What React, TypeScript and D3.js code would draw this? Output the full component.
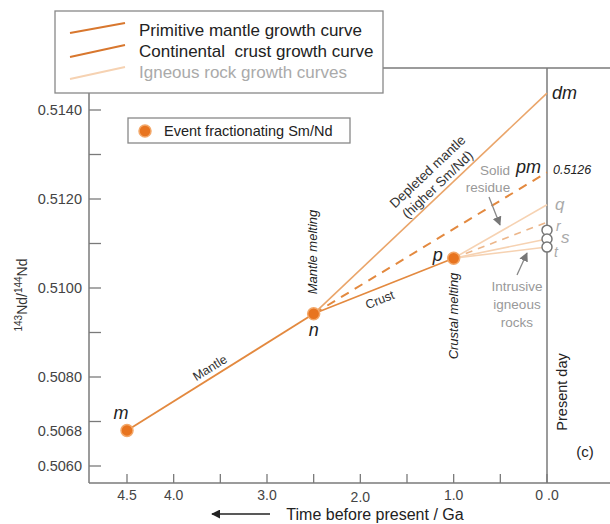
import React from "react";
import * as d3 from "d3";

// ---- data ----
const xTickValues = [4.5, 4.0, 3.5, 3.0, 2.5, 2.0, 1.5, 1.0, 0.5, 0.0];
const xTickLabels = ["4.5", "4.0", "", "3.0", "", "2.0", "", "1.0", "", "0 .0"];
const yMajorTicks = [0.506, 0.508, 0.51, 0.512, 0.514];
const yMajorLabels = ["0.5060", "0.5080", "0.5100", "0.5120", "0.5140"];
const yMinorTicks = [0.507, 0.509, 0.511, 0.513];
const yExtraValue = 0.5068;
const yExtraLabel = "0.5068";

const eventLabels = ["m", "n", "p"];
const eventAges = [4.5, 2.5, 1.0];
const eventRatios = [0.5068, 0.50942, 0.51067];

// present-day end members
const depletedMantleNow = 0.51438; // dm
const primitiveMantleNow = 0.5126; // pm
const igneousLabels = ["q", "r", "s", "t"];
const igneousNow = [0.51187, 0.5113, 0.5111, 0.51092];
const igneousDashedNow = 0.51148;

const legendItems = [
  "Primitive mantle growth curve",
  "Continental  crust growth curve",
  "Igneous rock growth curves",
];

const FONT = "'Liberation Sans', Arial, Helvetica, sans-serif";

export default function App() {
  const x = d3.scaleLinear().domain([0, 4.5]).range([547, 127]);
  const y = d3.scaleLinear().domain([0.506, 0.514]).range([466, 110]);
  const line = d3
    .line<[number, number]>()
    .x((d) => x(d[0]))
    .y((d) => y(d[1]));

  const left = 89;
  const bottom = 483;
  const top = 68;
  const right = 610;
  const axisColor = "#7a7a7a";

  const [mT, nT, pT] = eventAges;
  const [mV, nV, pV] = eventRatios;

  const orange = "#e3893f";
  const orangeLight = "#eaa56a";
  const peach = "#f6d2b2";

  const pX = x(pT);
  const pY = y(pV);
  const nX = x(nT);
  const nY = y(nV);
  const mX = x(mT);
  const mY = y(mV);
  const xNow = x(0);

  const angle = (x1: number, y1: number, x2: number, y2: number) =>
    (Math.atan2(y2 - y1, x2 - x1) * 180) / Math.PI;

  const mantleAngle = angle(mX, mY, nX, nY);
  const crustAngle = angle(nX, nY, pX, pY);
  const dmAngle = angle(nX, nY, xNow, y(depletedMantleNow));

  return (
    <svg
      width={610}
      height={524}
      style={{ position: "absolute", left: 0, top: 0, background: "#fff" }}
      fontFamily={FONT}
    >
      <defs>
        <marker id="ah" viewBox="0 0 10 10" refX="9" refY="5" markerWidth="7" markerHeight="7" orient="auto">
          <path d="M0,0 L10,5 L0,10 z" fill="#777" />
        </marker>
        <marker id="ahk" viewBox="0 0 10 10" refX="9" refY="5" markerWidth="6" markerHeight="6" orient="auto">
          <path d="M0,0 L10,5 L0,10 z" fill="#222" />
        </marker>
      </defs>
      <rect x={0} y={0} width={610} height={524} fill="#fff" />

      {/* frame */}
      <line x1={left} y1={top} x2={right} y2={top} stroke={axisColor} strokeWidth={1.5} />
      <line x1={left} y1={top} x2={left} y2={bottom} stroke={axisColor} strokeWidth={1.5} />
      <line x1={left} y1={bottom} x2={right} y2={bottom} stroke={axisColor} strokeWidth={1.5} />
      <line x1={xNow} y1={top} x2={xNow} y2={bottom} stroke={axisColor} strokeWidth={1.5} />

      {/* x ticks */}
      {xTickValues.map((t, i) => (
        <g key={"xt" + i}>
          <line x1={x(t)} x2={x(t)} y1={bottom} y2={bottom - 9} stroke={axisColor} strokeWidth={1.3} />
          {xTickLabels[i] && (
            <text x={x(t)} y={bottom + 17 + (t === 2 ? 2 : 0)} fontSize={14} fill="#444" textAnchor="middle">
              {xTickLabels[i]}
            </text>
          )}
        </g>
      ))}

      {/* y ticks */}
      {yMajorTicks.map((v, i) => (
        <g key={"yt" + i}>
          <line x1={left} x2={left + 12} y1={y(v)} y2={y(v)} stroke={axisColor} strokeWidth={1.3} />
          <text x={left - 7} y={y(v) + 5} fontSize={14.5} fill="#444" textAnchor="end">
            {yMajorLabels[i]}
          </text>
        </g>
      ))}
      {yMinorTicks.map((v, i) => (
        <line key={"ym" + i} x1={left} x2={left + 12} y1={y(v)} y2={y(v)} stroke={axisColor} strokeWidth={1.3} />
      ))}
      <text x={left - 7} y={y(yExtraValue) + 6} fontSize={14.5} fill="#444" textAnchor="end">
        {yExtraLabel}
      </text>

      {/* y title */}
      <text transform={`translate(27,295) rotate(-90)`} fontSize={14} fill="#333" textAnchor="middle">
        <tspan fontSize={10} dy={-5}>143</tspan>
        <tspan dy={5}>Nd/</tspan>
        <tspan fontSize={10} dy={-5}>144</tspan>
        <tspan dy={5}>Nd</tspan>
      </text>

      {/* x title */}
      <line x1={270} y1={514} x2={212} y2={514} stroke="#222" strokeWidth={1.5} markerEnd="url(#ahk)" />
      <text x={375} y={520} fontSize={16} fill="#222" textAnchor="middle">
        Time before present / Ga
      </text>

      {/* igneous rock growth curves from p */}
      {[0, 2, 3].map((i) => (
        <path
          key={"ig" + i}
          d={line([[pT, pV], [0, igneousNow[i]]]) || ""}
          stroke={peach}
          strokeWidth={1.6}
          fill="none"
        />
      ))}
      <path
        d={line([[pT, pV], [0, igneousDashedNow]]) || ""}
        stroke="#ecb68a"
        strokeWidth={1.6}
        strokeDasharray="7,6"
        fill="none"
      />

      {/* primitive mantle continuation (dashed) */}
      <path
        d={line([[nT, nV], [0, primitiveMantleNow]]) || ""}
        stroke={orange}
        strokeWidth={2}
        strokeDasharray="9,7"
        fill="none"
      />
      {/* depleted mantle */}
      <path d={line([[nT, nV], [0, depletedMantleNow]]) || ""} stroke={orangeLight} strokeWidth={1.6} fill="none" />
      {/* mantle m-n */}
      <path d={line([[mT, mV], [nT, nV]]) || ""} stroke={orange} strokeWidth={1.8} fill="none" />
      {/* crust n-p */}
      <path d={line([[nT, nV], [pT, pV]]) || ""} stroke={orange} strokeWidth={1.6} fill="none" />

      {/* event circles */}
      {eventAges.map((t, i) => (
        <circle key={"ev" + i} cx={x(t)} cy={y(eventRatios[i])} r={6} fill="#e8741f" stroke="#f3a86a" strokeWidth={1.5} />
      ))}

      {/* open circles r, s, t */}
      {[1, 2, 3].map((i) => (
        <circle key={"oc" + i} cx={xNow} cy={y(igneousNow[i])} r={5} fill="#fff" stroke="#777" strokeWidth={1.5} />
      ))}

      {/* event labels */}
      <text x={mX - 6} y={mY - 11} fontSize={18} fontStyle="italic" fill="#222" textAnchor="middle">
        {eventLabels[0]}
      </text>
      <text x={nX} y={nY + 22} fontSize={18} fontStyle="italic" fill="#222" textAnchor="middle">
        {eventLabels[1]}
      </text>
      <text x={pX - 16} y={pY + 3} fontSize={18} fontStyle="italic" fill="#222" textAnchor="middle">
        {eventLabels[2]}
      </text>

      {/* line labels */}
      <text
        transform={`translate(210,368) rotate(${mantleAngle})`}
        fontSize={12.5}
        fill="#333"
        textAnchor="middle"
        dy={4}
      >
        Mantle
      </text>
      <text
        transform={`translate(380,300) rotate(${crustAngle})`}
        fontSize={12.5}
        fill="#333"
        textAnchor="middle"
        dy={4}
      >
        Crust
      </text>
      <text transform={`translate(428,172) rotate(${dmAngle})`} fontSize={13.5} fill="#333" textAnchor="middle" dy={4}>
        Depleted mantle
      </text>
      <text transform={`translate(438,185) rotate(${dmAngle})`} fontSize={13.5} fill="#333" textAnchor="middle" dy={4}>
        (higher Sm/Nd)
      </text>
      <text transform={`translate(317,252) rotate(-90)`} fontSize={13} fontStyle="italic" fill="#222" textAnchor="middle">
        Mantle melting
      </text>
      <text transform={`translate(458,316) rotate(-90)`} fontSize={13} fontStyle="italic" fill="#222" textAnchor="middle">
        Crustal melting
      </text>
      <text transform={`translate(567,392) rotate(-90)`} fontSize={14.5} fill="#222" textAnchor="middle">
        Present day
      </text>
      <text x={585} y={457} fontSize={15} fill="#222" textAnchor="middle">
        (c)
      </text>

      {/* right end labels */}
      <text x={552} y={y(depletedMantleNow) + 6} fontSize={18} fontStyle="italic" fill="#222">
        dm
      </text>
      <text x={516} y={y(primitiveMantleNow) + 1} fontSize={18} fontStyle="italic" fill="#222">
        pm
      </text>
      <text x={553} y={y(primitiveMantleNow) + 2} fontSize={12.5} fontStyle="italic" fill="#222">
        0.5126
      </text>
      <text x={555} y={y(igneousNow[0]) + 5} fontSize={17} fontStyle="italic" fill="#aaa">
        {igneousLabels[0]}
      </text>
      <text x={556} y={y(igneousNow[1]) + 1} fontSize={14} fontStyle="italic" fill="#aaa">
        {igneousLabels[1]}
      </text>
      <text x={561} y={y(igneousNow[2]) + 4} fontSize={17} fontStyle="italic" fill="#aaa">
        {igneousLabels[2]}
      </text>
      <text x={554} y={y(igneousNow[3]) + 10} fontSize={14} fontStyle="italic" fill="#aaa">
        {igneousLabels[3]}
      </text>

      {/* annotations */}
      <text x={495} y={175} fontSize={13.5} fill="#999" textAnchor="middle">
        Solid
      </text>
      <text x={488} y={192} fontSize={13.5} fill="#999" textAnchor="middle">
        residue
      </text>
      <line x1={489} y1={197} x2={500} y2={225} stroke="#888" strokeWidth={1.3} markerEnd="url(#ah)" />

      <text x={517} y={291} fontSize={13.5} fill="#999" textAnchor="middle">
        Intrusive
      </text>
      <text x={517} y={309} fontSize={13.5} fill="#999" textAnchor="middle">
        igneous
      </text>
      <text x={517} y={327} fontSize={13.5} fill="#999" textAnchor="middle">
        rocks
      </text>
      <line x1={517} y1={275} x2={527} y2={253} stroke="#888" strokeWidth={1.3} markerEnd="url(#ah)" />

      {/* main legend */}
      <rect x={55} y={11} width={328} height={82} fill="#fff" stroke="#888" strokeWidth={1.3} />
      <line x1={70} y1={33} x2={125} y2={23} stroke="#d8772e" strokeWidth={2} />
      <line x1={70} y1={57} x2={125} y2={45} stroke="#d8772e" strokeWidth={2} />
      <line x1={70} y1={79} x2={125} y2={67} stroke={peach} strokeWidth={2} />
      {legendItems.map((s, i) => (
        <text
          key={"lg" + i}
          x={139}
          y={36 + i * 21}
          fontSize={17}
          fill={i === 2 ? "#aaa" : "#222"}
          style={{ whiteSpace: "pre" }}
        >
          {s}
        </text>
      ))}

      {/* event legend */}
      <rect x={128} y={118} width={222} height={25} fill="#fff" stroke="#888" strokeWidth={1.3} />
      <circle cx={145} cy={131} r={6} fill="#e8741f" stroke="#f3a86a" strokeWidth={1.5} />
      <text x={164} y={136} fontSize={14.5} fill="#222">
        Event fractionating Sm/Nd
      </text>
    </svg>
  );
}
